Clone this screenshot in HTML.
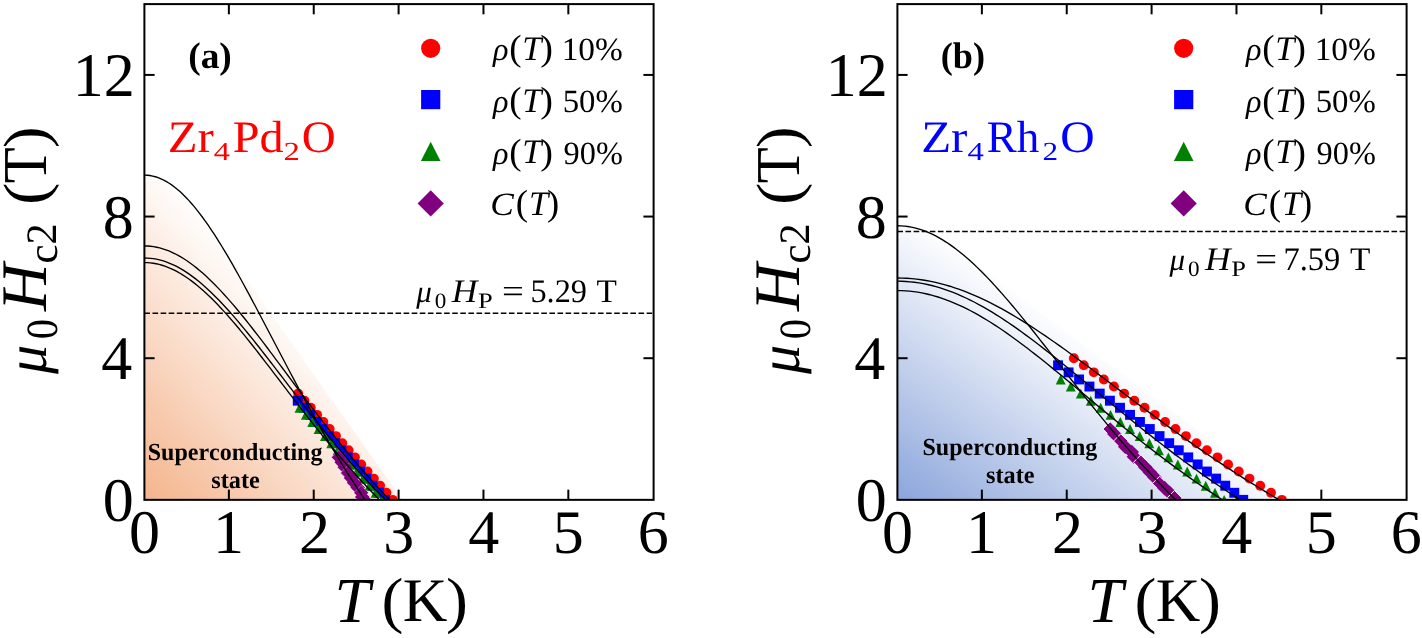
<!DOCTYPE html>
<html><head><meta charset="utf-8"><title>Hc2 phase diagrams</title>
<style>html,body{margin:0;padding:0;background:#fff;font-family:"Liberation Serif",serif}svg{display:block;will-change:transform}</style>
</head><body>
<svg width="1422" height="638" viewBox="0 0 1422 638" font-family="'Liberation Serif', serif" style="font-kerning:none" text-rendering="geometricPrecision">
<rect width="1422" height="638" fill="#fff"/>
<defs><linearGradient id="ga" gradientUnits="userSpaceOnUse" x1="144.4" y1="499.9" x2="320.7" y2="339.3"><stop offset="0.00" stop-color="rgb(244,180,140)"/><stop offset="0.05" stop-color="rgb(245,184,146)"/><stop offset="0.10" stop-color="rgb(245,188,152)"/><stop offset="0.15" stop-color="rgb(246,191,157)"/><stop offset="0.20" stop-color="rgb(246,195,163)"/><stop offset="0.25" stop-color="rgb(247,199,169)"/><stop offset="0.30" stop-color="rgb(247,202,174)"/><stop offset="0.35" stop-color="rgb(248,206,180)"/><stop offset="0.40" stop-color="rgb(248,210,186)"/><stop offset="0.45" stop-color="rgb(249,214,192)"/><stop offset="0.50" stop-color="rgb(250,218,198)"/><stop offset="0.55" stop-color="rgb(250,221,203)"/><stop offset="0.60" stop-color="rgb(251,225,209)"/><stop offset="0.65" stop-color="rgb(251,229,215)"/><stop offset="0.70" stop-color="rgb(252,232,220)"/><stop offset="0.75" stop-color="rgb(252,236,226)"/><stop offset="0.80" stop-color="rgb(253,240,232)"/><stop offset="0.85" stop-color="rgb(253,244,238)"/><stop offset="0.90" stop-color="rgb(254,248,244)"/><stop offset="0.95" stop-color="rgb(254,251,249)"/><stop offset="1.00" stop-color="rgb(255,255,255)"/></linearGradient><clipPath id="ca"><rect x="144.4" y="4.1" width="509.20000000000005" height="495.75"/></clipPath></defs>
<path d="M144.40,499.85 L144.40,175.13 L145.93,175.16 L147.46,175.26 L148.98,175.41 L150.51,175.63 L152.04,175.91 L153.57,176.25 L155.09,176.66 L156.62,177.12 L158.15,177.65 L159.68,178.23 L161.20,178.88 L162.73,179.59 L164.26,180.35 L165.79,181.18 L167.31,182.06 L168.84,183.01 L170.37,184.01 L171.90,185.06 L173.42,186.18 L174.95,187.35 L176.48,188.58 L178.01,189.86 L179.53,191.19 L181.06,192.58 L182.59,194.02 L184.12,195.52 L185.65,197.06 L187.17,198.65 L188.70,200.30 L190.23,201.99 L191.76,203.73 L193.28,205.52 L194.81,207.35 L196.34,209.23 L197.87,211.15 L199.39,213.11 L200.92,215.12 L202.45,217.17 L203.98,219.26 L205.50,221.39 L402.39,499.85Z" fill="url(#ga)"/>
<line x1="144.4" y1="313.15" x2="653.6" y2="313.15" stroke="#000" stroke-width="1.5" stroke-dasharray="5.6 2.5"/>
<line x1="228.87" y1="499.85" x2="228.87" y2="489.65000000000003" stroke="#000" stroke-width="2.0"/>
<line x1="228.87" y1="4.1" x2="228.87" y2="14.299999999999999" stroke="#000" stroke-width="2.0"/>
<line x1="313.73" y1="499.85" x2="313.73" y2="489.65000000000003" stroke="#000" stroke-width="2.0"/>
<line x1="313.73" y1="4.1" x2="313.73" y2="14.299999999999999" stroke="#000" stroke-width="2.0"/>
<line x1="398.60" y1="499.85" x2="398.60" y2="489.65000000000003" stroke="#000" stroke-width="2.0"/>
<line x1="398.60" y1="4.1" x2="398.60" y2="14.299999999999999" stroke="#000" stroke-width="2.0"/>
<line x1="483.47" y1="499.85" x2="483.47" y2="489.65000000000003" stroke="#000" stroke-width="2.0"/>
<line x1="483.47" y1="4.1" x2="483.47" y2="14.299999999999999" stroke="#000" stroke-width="2.0"/>
<line x1="568.33" y1="499.85" x2="568.33" y2="489.65000000000003" stroke="#000" stroke-width="2.0"/>
<line x1="568.33" y1="4.1" x2="568.33" y2="14.299999999999999" stroke="#000" stroke-width="2.0"/>
<line x1="144.4" y1="358.21" x2="154.6" y2="358.21" stroke="#000" stroke-width="2.0"/>
<line x1="653.6" y1="358.21" x2="643.4" y2="358.21" stroke="#000" stroke-width="2.0"/>
<line x1="144.4" y1="216.56" x2="154.6" y2="216.56" stroke="#000" stroke-width="2.0"/>
<line x1="653.6" y1="216.56" x2="643.4" y2="216.56" stroke="#000" stroke-width="2.0"/>
<line x1="144.4" y1="74.92" x2="154.6" y2="74.92" stroke="#000" stroke-width="2.0"/>
<line x1="653.6" y1="74.92" x2="643.4" y2="74.92" stroke="#000" stroke-width="2.0"/>
<g clip-path="url(#ca)">
<circle cx="298.18" cy="393.62" r="4.95" fill="#f00"/>
<circle cx="304.48" cy="400.70" r="4.95" fill="#f00"/>
<circle cx="310.78" cy="407.78" r="4.95" fill="#f00"/>
<circle cx="317.09" cy="414.86" r="4.95" fill="#f00"/>
<circle cx="323.39" cy="421.95" r="4.95" fill="#f00"/>
<circle cx="329.69" cy="429.03" r="4.95" fill="#f00"/>
<circle cx="335.99" cy="436.11" r="4.95" fill="#f00"/>
<circle cx="342.30" cy="443.19" r="4.95" fill="#f00"/>
<circle cx="348.60" cy="450.28" r="4.95" fill="#f00"/>
<circle cx="354.90" cy="457.36" r="4.95" fill="#f00"/>
<circle cx="361.21" cy="464.44" r="4.95" fill="#f00"/>
<circle cx="367.51" cy="471.52" r="4.95" fill="#f00"/>
<circle cx="373.81" cy="478.60" r="4.95" fill="#f00"/>
<circle cx="380.11" cy="485.69" r="4.95" fill="#f00"/>
<circle cx="386.42" cy="492.77" r="4.95" fill="#f00"/>
<circle cx="392.72" cy="499.85" r="4.95" fill="#f00"/>
<rect x="292.80" y="395.75" width="9.9" height="9.9" fill="#00f"/>
<rect x="299.04" y="402.83" width="9.9" height="9.9" fill="#00f"/>
<rect x="305.27" y="409.91" width="9.9" height="9.9" fill="#00f"/>
<rect x="311.50" y="417.00" width="9.9" height="9.9" fill="#00f"/>
<rect x="317.73" y="424.08" width="9.9" height="9.9" fill="#00f"/>
<rect x="323.96" y="431.16" width="9.9" height="9.9" fill="#00f"/>
<rect x="330.19" y="438.24" width="9.9" height="9.9" fill="#00f"/>
<rect x="336.43" y="445.33" width="9.9" height="9.9" fill="#00f"/>
<rect x="342.66" y="452.41" width="9.9" height="9.9" fill="#00f"/>
<rect x="348.89" y="459.49" width="9.9" height="9.9" fill="#00f"/>
<rect x="355.12" y="466.57" width="9.9" height="9.9" fill="#00f"/>
<rect x="361.35" y="473.65" width="9.9" height="9.9" fill="#00f"/>
<rect x="367.58" y="480.74" width="9.9" height="9.9" fill="#00f"/>
<rect x="373.82" y="487.82" width="9.9" height="9.9" fill="#00f"/>
<rect x="380.05" y="494.90" width="9.9" height="9.9" fill="#00f"/>
<path d="M299.54,402.83 L304.49,412.73 L294.59,412.73Z" fill="#008000"/>
<path d="M305.88,409.91 L310.83,419.81 L300.93,419.81Z" fill="#008000"/>
<path d="M312.23,417.00 L317.18,426.90 L307.28,426.90Z" fill="#008000"/>
<path d="M318.57,424.08 L323.52,433.98 L313.62,433.98Z" fill="#008000"/>
<path d="M324.92,431.16 L329.87,441.06 L319.97,441.06Z" fill="#008000"/>
<path d="M331.26,438.24 L336.21,448.14 L326.31,448.14Z" fill="#008000"/>
<path d="M337.61,445.33 L342.56,455.23 L332.66,455.23Z" fill="#008000"/>
<path d="M343.95,452.41 L348.90,462.31 L339.00,462.31Z" fill="#008000"/>
<path d="M350.30,459.49 L355.25,469.39 L345.35,469.39Z" fill="#008000"/>
<path d="M356.65,466.57 L361.60,476.47 L351.70,476.47Z" fill="#008000"/>
<path d="M362.99,473.65 L367.94,483.55 L358.04,483.55Z" fill="#008000"/>
<path d="M369.34,480.74 L374.29,490.64 L364.39,490.64Z" fill="#008000"/>
<path d="M375.68,487.82 L380.63,497.72 L370.73,497.72Z" fill="#008000"/>
<path d="M382.03,494.90 L386.98,504.80 L377.08,504.80Z" fill="#008000"/>
<path d="M338.74,450.03 L346.07,457.36 L338.74,464.68 L331.42,457.36Z" fill="#800080" stroke="#fff" stroke-width="0.35"/>
<path d="M341.76,454.99 L349.09,462.31 L341.76,469.64 L334.44,462.31Z" fill="#800080"/>
<path d="M344.82,459.95 L352.15,467.27 L344.82,474.60 L337.50,467.27Z" fill="#800080"/>
<path d="M347.91,465.61 L355.24,472.94 L347.91,480.26 L340.59,472.94Z" fill="#800080" stroke="#fff" stroke-width="0.35"/>
<path d="M351.06,470.57 L358.38,477.90 L351.06,485.22 L343.73,477.90Z" fill="#800080"/>
<path d="M354.24,475.53 L361.57,482.85 L354.24,490.18 L346.91,482.85Z" fill="#800080"/>
<path d="M357.69,480.13 L365.01,487.46 L357.69,494.78 L350.36,487.46Z" fill="#800080"/>
<path d="M361.19,485.44 L368.52,492.77 L361.19,500.09 L353.87,492.77Z" fill="#800080" stroke="#fff" stroke-width="0.35"/>
<path d="M362.24,489.69 L369.56,497.02 L362.24,504.34 L354.91,497.02Z" fill="#800080"/>
<path d="M364.15,492.52 L371.48,499.85 L364.15,507.18 L356.83,499.85Z" fill="#800080"/>
<polyline points="144.40,175.13 147.16,175.24 149.92,175.54 152.67,176.05 155.43,176.75 158.19,177.66 160.95,178.77 163.71,180.07 166.47,181.56 169.22,183.25 171.98,185.13 174.74,187.18 177.50,189.42 180.26,191.84 183.01,194.43 185.77,197.19 188.53,200.11 191.29,203.19 194.05,206.43 196.81,209.81 199.56,213.34 202.32,217.00 205.08,220.79 207.84,224.72 210.60,228.76 213.35,232.91 216.11,237.18 218.87,241.54 221.63,246.01 224.39,250.56 227.15,255.20 229.90,259.92 232.66,264.71 235.42,269.57 238.18,274.49 240.94,279.47 243.69,284.50 246.45,289.57 249.21,294.69 251.97,299.84 254.73,305.02 257.48,310.23 260.24,315.46 263.00,320.70 265.76,325.96 268.52,331.23 271.28,336.50 274.03,341.77 276.79,347.04 279.55,352.31 282.31,357.56 285.07,362.80 287.82,368.02 290.58,373.23 293.34,378.41 296.10,383.57 298.86,388.71 301.62,393.81 304.37,398.88 307.13,403.92 309.89,408.93 312.65,413.90 315.41,418.83 318.16,423.72 320.92,428.57 323.68,433.38 326.44,438.14 329.20,442.86 331.96,447.54 334.71,452.17 337.47,456.75 340.23,461.28 342.99,465.76 345.75,470.20 348.50,474.59 351.26,478.92 354.02,483.21 356.78,487.44 359.54,491.63 362.30,495.77 365.05,499.85" fill="none" stroke="#000" stroke-width="1.35"/>
<polyline points="144.40,245.96 147.47,246.03 150.53,246.27 153.60,246.67 156.66,247.22 159.73,247.93 162.79,248.80 165.86,249.81 168.93,250.98 171.99,252.30 175.06,253.77 178.12,255.38 181.19,257.13 184.26,259.02 187.32,261.04 190.39,263.20 193.45,265.49 196.52,267.89 199.58,270.42 202.65,273.07 205.72,275.83 208.78,278.69 211.85,281.66 214.91,284.72 217.98,287.88 221.05,291.13 224.11,294.47 227.18,297.88 230.24,301.37 233.31,304.93 236.37,308.56 239.44,312.25 242.51,316.00 245.57,319.79 248.64,323.64 251.70,327.53 254.77,331.47 257.83,335.43 260.90,339.43 263.97,343.46 267.03,347.51 270.10,351.58 273.16,355.67 276.23,359.78 279.30,363.89 282.36,368.01 285.43,372.13 288.49,376.25 291.56,380.37 294.62,384.49 297.69,388.59 300.76,392.69 303.82,396.77 306.89,400.85 309.95,404.90 313.02,408.93 316.09,412.95 319.15,416.94 322.22,420.90 325.28,424.85 328.35,428.76 331.41,432.64 334.48,436.50 337.55,440.32 340.61,444.12 343.68,447.88 346.74,451.60 349.81,455.29 352.87,458.95 355.94,462.57 359.01,466.15 362.07,469.69 365.14,473.20 368.20,476.67 371.27,480.10 374.34,483.49 377.40,486.84 380.47,490.15 383.53,493.42 386.60,496.66 389.66,499.85" fill="none" stroke="#000" stroke-width="1.35"/>
<polyline points="144.40,257.99 147.41,258.07 150.43,258.30 153.44,258.67 156.45,259.20 159.46,259.88 162.48,260.70 165.49,261.67 168.50,262.78 171.51,264.04 174.53,265.44 177.54,266.97 180.55,268.64 183.57,270.44 186.58,272.37 189.59,274.42 192.60,276.60 195.62,278.89 198.63,281.30 201.64,283.82 204.66,286.45 207.67,289.18 210.68,292.00 213.69,294.92 216.71,297.93 219.72,301.03 222.73,304.21 225.74,307.46 228.76,310.78 231.77,314.17 234.78,317.63 237.80,321.14 240.81,324.71 243.82,328.33 246.83,332.00 249.85,335.71 252.86,339.45 255.87,343.23 258.89,347.04 261.90,350.88 264.91,354.74 267.92,358.62 270.94,362.51 273.95,366.42 276.96,370.33 279.97,374.26 282.99,378.18 286.00,382.11 289.01,386.04 292.03,389.96 295.04,393.87 298.05,397.77 301.06,401.66 304.08,405.54 307.09,409.40 310.10,413.24 313.11,417.07 316.13,420.87 319.14,424.65 322.15,428.40 325.17,432.13 328.18,435.83 331.19,439.50 334.20,443.15 337.22,446.76 340.23,450.34 343.24,453.89 346.26,457.40 349.27,460.89 352.28,464.33 355.29,467.75 358.31,471.12 361.32,474.46 364.33,477.77 367.34,481.03 370.36,484.26 373.37,487.46 376.38,490.61 379.40,493.73 382.41,496.81 385.42,499.85" fill="none" stroke="#000" stroke-width="1.35"/>
<polyline points="144.40,262.60 147.34,262.67 150.28,262.89 153.22,263.26 156.15,263.78 159.09,264.44 162.03,265.25 164.97,266.20 167.91,267.30 170.85,268.53 173.79,269.90 176.72,271.40 179.66,273.04 182.60,274.81 185.54,276.70 188.48,278.71 191.42,280.85 194.35,283.10 197.29,285.46 200.23,287.93 203.17,290.51 206.11,293.19 209.05,295.96 211.99,298.82 214.92,301.78 217.86,304.81 220.80,307.93 223.74,311.12 226.68,314.38 229.62,317.71 232.56,321.10 235.49,324.55 238.43,328.05 241.37,331.60 244.31,335.19 247.25,338.83 250.19,342.50 253.12,346.21 256.06,349.95 259.00,353.71 261.94,357.50 264.88,361.30 267.82,365.12 270.76,368.96 273.69,372.80 276.63,376.65 279.57,380.50 282.51,384.35 285.45,388.20 288.39,392.05 291.33,395.89 294.26,399.71 297.20,403.53 300.14,407.33 303.08,411.12 306.02,414.89 308.96,418.64 311.89,422.37 314.83,426.08 317.77,429.76 320.71,433.42 323.65,437.05 326.59,440.65 329.53,444.23 332.46,447.77 335.40,451.28 338.34,454.76 341.28,458.21 344.22,461.63 347.16,465.01 350.10,468.36 353.03,471.67 355.97,474.95 358.91,478.19 361.85,481.39 364.79,484.56 367.73,487.69 370.67,490.79 373.60,493.84 376.54,496.87 379.48,499.85" fill="none" stroke="#000" stroke-width="1.35"/>
</g>
<rect x="144.4" y="4.1" width="509.20000000000005" height="495.75" fill="none" stroke="#000" stroke-width="2.0"/>
<text font-size="62.00" fill="#000" x="128.90" y="553.00">0</text>
<text font-size="62.00" fill="#000" x="212.90" y="553.00">1</text>
<text font-size="62.00" fill="#000" x="298.98" y="553.00">2</text>
<text font-size="62.00" fill="#000" x="383.23" y="553.00">3</text>
<text font-size="62.00" fill="#000" x="468.25" y="553.00">4</text>
<text font-size="62.00" fill="#000" x="552.64" y="553.00">5</text>
<text font-size="62.00" fill="#000" x="637.69" y="553.00">6</text>
<text font-size="62.00" fill="#000" x="102.66" y="521.05">0</text>
<text font-size="62.00" fill="#000" x="101.27" y="379.41">4</text>
<text font-size="62.00" fill="#000" x="102.66" y="237.76">8</text>
<text font-size="62.00" fill="#000" x="72.72" y="96.12">12</text>
<text font-style="italic" font-size="64" fill="#000" x="334.5" y="621.7">T</text>
<text font-size="100" fill="#000" transform="translate(381.61,621.23) scale(0.6580,0.6231)">(</text>
<text font-size="62.00" fill="#000" transform="translate(402.72,621.10) scale(0.9964,1.0000)">K</text>
<text font-size="100" fill="#000" transform="translate(446.08,621.23) scale(0.6580,0.6231)">)</text>
<g transform="translate(46.10,374) rotate(-90)">
<text font-style="italic" font-size="58" fill="#000" x="0" y="0">μ</text>
<text font-size="100" fill="#000" transform="translate(34.86,10.66) scale(0.4035,0.4461)">0</text>
<text font-style="italic" font-size="100" fill="#000" transform="translate(63.01,-0.00) scale(0.6582,0.6506)">H</text>
<text font-size="100" fill="#000" transform="translate(110.33,10.49) scale(0.4373,0.4242)">c</text>
<text font-size="100" fill="#000" transform="translate(129.54,10.30) scale(0.4241,0.4350)">2</text>
<text font-size="100" fill="#000" transform="translate(168.96,0.02) scale(0.6697,0.6143)">(</text>
<text font-size="100" fill="#000" transform="translate(190.84,0.20) scale(0.5884,0.6246)">T</text>
<text font-size="100" fill="#000" transform="translate(225.78,0.02) scale(0.6580,0.6143)">)</text>
</g>
<text font-weight="bold" font-size="37.00" fill="#000" transform="translate(188.15,67.60) scale(1.0128,1.0000)">(a)</text>
<text font-size="45.00" fill="#f00" transform="translate(167.76,152.30) scale(1.0846,1.0000)">Zr</text>
<text font-size="26.00" fill="#f00" transform="translate(213.67,159.80) scale(1.2494,1.0000)">4</text>
<text font-size="45.00" fill="#f00" transform="translate(232.71,152.30) scale(1.0705,1.0000)">Pd</text>
<text font-size="26.00" fill="#f00" transform="translate(283.46,159.80) scale(1.2569,1.0000)">2</text>
<text font-size="45.00" fill="#f00" transform="translate(301.77,152.30) scale(1.0449,1.0000)">O</text>
<circle cx="430.7" cy="48.3" r="9.6" fill="#f00"/>
<rect x="421.09999999999997" y="90.0" width="19.2" height="19.2" fill="#00f"/>
<path d="M430.7,141.70000000000002 L440.5,160.9 L420.9,160.9Z" fill="#008000"/>
<path d="M430.7,190.3 L443.8,203.4 L430.7,216.5 L417.59999999999997,203.4Z" fill="#800080"/>
<text font-style="italic" font-size="32.50" fill="#000" transform="translate(493.02,60.40) scale(0.9909,1.0000)">ρ</text>
<text font-size="100" fill="#000" transform="translate(509.17,60.35) scale(0.3699,0.3639)">(</text>
<text font-style="italic" font-size="34.5" fill="#000" x="522.3" y="60.2">T</text>
<text font-size="100" fill="#000" transform="translate(540.37,60.35) scale(0.3816,0.3639)">)</text>
<text font-size="32.50" fill="#000" transform="translate(561.67,60.40) scale(1.0269,1.0000)">10%</text>
<text font-style="italic" font-size="32.50" fill="#000" transform="translate(493.02,112.00) scale(0.9909,1.0000)">ρ</text>
<text font-size="100" fill="#000" transform="translate(509.17,111.95) scale(0.3699,0.3639)">(</text>
<text font-style="italic" font-size="34.5" fill="#000" x="522.3" y="111.8">T</text>
<text font-size="100" fill="#000" transform="translate(540.37,111.95) scale(0.3816,0.3639)">)</text>
<text font-size="32.50" fill="#000" transform="translate(562.69,112.00) scale(1.0093,1.0000)">50%</text>
<text font-style="italic" font-size="32.50" fill="#000" transform="translate(493.02,163.60) scale(0.9909,1.0000)">ρ</text>
<text font-size="100" fill="#000" transform="translate(509.17,163.55) scale(0.3699,0.3639)">(</text>
<text font-style="italic" font-size="34.5" fill="#000" x="522.3" y="163.4">T</text>
<text font-size="100" fill="#000" transform="translate(540.37,163.55) scale(0.3816,0.3639)">)</text>
<text font-size="32.50" fill="#000" transform="translate(563.56,163.60) scale(0.9945,1.0000)">90%</text>
<text font-style="italic" font-size="32.50" fill="#000" transform="translate(490.24,215.20) scale(1.0858,1.0000)">C</text>
<text font-size="100" fill="#000" transform="translate(515.77,215.15) scale(0.3699,0.3639)">(</text>
<text font-style="italic" font-size="34.5" fill="#000" x="528.9" y="215">T</text>
<text font-size="100" fill="#000" transform="translate(547.02,215.15) scale(0.3660,0.3639)">)</text>
<g transform="translate(416.20,301.90) scale(0.535)"><text font-style="italic" font-size="58" fill="#000" x="0" y="0">μ</text></g>
<text font-size="22.00" fill="#000" transform="translate(434.72,307.60) scale(1.0510,1.0000)">0</text>
<text font-style="italic" font-size="33.00" fill="#000" transform="translate(451.78,301.60) scale(1.0752,1.0000)">H</text>
<text font-size="22.00" fill="#000" transform="translate(477.94,307.60) scale(1.2033,1.0000)">P</text>
<text font-size="33.00" fill="#000" transform="translate(502.07,301.60) scale(1.1722,1.0000)">=</text>
<text font-size="33.00" fill="#000" transform="translate(530.42,301.60) scale(0.9784,1.0000)">5.29</text>
<text font-size="33.00" fill="#000" transform="translate(596.60,301.60) scale(1.0098,1.0000)">T</text>
<text font-weight="bold" font-size="24.50" fill="#000" transform="translate(147.72,459.80) scale(0.9796,1.0000)">Superconducting</text>
<text font-weight="bold" font-size="24.50" fill="#000" transform="translate(211.26,488.40) scale(0.9916,1.0000)">state</text>
<defs><linearGradient id="gb" gradientUnits="userSpaceOnUse" x1="897.4" y1="499.9" x2="1037.5" y2="304.8"><stop offset="0.00" stop-color="rgb(139,165,219)"/><stop offset="0.05" stop-color="rgb(145,170,221)"/><stop offset="0.10" stop-color="rgb(151,174,223)"/><stop offset="0.15" stop-color="rgb(156,178,224)"/><stop offset="0.20" stop-color="rgb(162,183,226)"/><stop offset="0.25" stop-color="rgb(168,188,228)"/><stop offset="0.30" stop-color="rgb(174,192,230)"/><stop offset="0.35" stop-color="rgb(180,196,232)"/><stop offset="0.40" stop-color="rgb(185,201,233)"/><stop offset="0.45" stop-color="rgb(191,206,235)"/><stop offset="0.50" stop-color="rgb(197,210,237)"/><stop offset="0.55" stop-color="rgb(203,214,239)"/><stop offset="0.60" stop-color="rgb(209,219,241)"/><stop offset="0.65" stop-color="rgb(214,224,242)"/><stop offset="0.70" stop-color="rgb(220,228,244)"/><stop offset="0.75" stop-color="rgb(226,232,246)"/><stop offset="0.80" stop-color="rgb(232,237,248)"/><stop offset="0.85" stop-color="rgb(238,242,250)"/><stop offset="0.90" stop-color="rgb(243,246,251)"/><stop offset="0.95" stop-color="rgb(249,250,253)"/><stop offset="1.00" stop-color="rgb(255,255,255)"/></linearGradient><clipPath id="cb"><rect x="897.4" y="4.1" width="509.19999999999993" height="495.75"/></clipPath></defs>
<path d="M897.40,499.85 L897.40,225.77 L898.84,225.79 L900.29,225.83 L901.73,225.90 L903.17,226.01 L904.61,226.14 L906.06,226.30 L907.50,226.49 L908.94,226.71 L910.38,226.96 L911.83,227.24 L913.27,227.55 L914.71,227.88 L916.16,228.25 L917.60,228.64 L919.04,229.06 L920.48,229.51 L921.93,229.99 L923.37,230.50 L924.81,231.04 L926.25,231.60 L927.70,232.19 L929.14,232.81 L930.58,233.45 L932.03,234.12 L933.47,234.82 L934.91,235.55 L936.35,236.30 L937.80,237.08 L939.24,237.88 L940.68,238.71 L942.12,239.57 L943.57,240.45 L945.01,241.35 L946.45,242.28 L947.90,243.23 L949.34,244.21 L950.78,245.21 L952.22,246.24 L953.67,247.29 L955.11,248.36 L1290.33,499.85Z" fill="url(#gb)"/>
<line x1="897.4" y1="231.5" x2="1406.6" y2="231.5" stroke="#000" stroke-width="1.5" stroke-dasharray="5.6 2.5"/>
<line x1="981.87" y1="499.85" x2="981.87" y2="489.65000000000003" stroke="#000" stroke-width="2.0"/>
<line x1="981.87" y1="4.1" x2="981.87" y2="14.299999999999999" stroke="#000" stroke-width="2.0"/>
<line x1="1066.73" y1="499.85" x2="1066.73" y2="489.65000000000003" stroke="#000" stroke-width="2.0"/>
<line x1="1066.73" y1="4.1" x2="1066.73" y2="14.299999999999999" stroke="#000" stroke-width="2.0"/>
<line x1="1151.60" y1="499.85" x2="1151.60" y2="489.65000000000003" stroke="#000" stroke-width="2.0"/>
<line x1="1151.60" y1="4.1" x2="1151.60" y2="14.299999999999999" stroke="#000" stroke-width="2.0"/>
<line x1="1236.47" y1="499.85" x2="1236.47" y2="489.65000000000003" stroke="#000" stroke-width="2.0"/>
<line x1="1236.47" y1="4.1" x2="1236.47" y2="14.299999999999999" stroke="#000" stroke-width="2.0"/>
<line x1="1321.33" y1="499.85" x2="1321.33" y2="489.65000000000003" stroke="#000" stroke-width="2.0"/>
<line x1="1321.33" y1="4.1" x2="1321.33" y2="14.299999999999999" stroke="#000" stroke-width="2.0"/>
<line x1="897.4" y1="358.21" x2="907.6" y2="358.21" stroke="#000" stroke-width="2.0"/>
<line x1="1406.6" y1="358.21" x2="1396.3999999999999" y2="358.21" stroke="#000" stroke-width="2.0"/>
<line x1="897.4" y1="216.56" x2="907.6" y2="216.56" stroke="#000" stroke-width="2.0"/>
<line x1="1406.6" y1="216.56" x2="1396.3999999999999" y2="216.56" stroke="#000" stroke-width="2.0"/>
<line x1="897.4" y1="74.92" x2="907.6" y2="74.92" stroke="#000" stroke-width="2.0"/>
<line x1="1406.6" y1="74.92" x2="1396.3999999999999" y2="74.92" stroke="#000" stroke-width="2.0"/>
<g clip-path="url(#cb)">
<circle cx="1073.84" cy="358.21" r="4.95" fill="#f00"/>
<circle cx="1083.79" cy="365.29" r="4.95" fill="#f00"/>
<circle cx="1093.80" cy="372.37" r="4.95" fill="#f00"/>
<circle cx="1103.85" cy="379.45" r="4.95" fill="#f00"/>
<circle cx="1113.95" cy="386.54" r="4.95" fill="#f00"/>
<circle cx="1124.09" cy="393.62" r="4.95" fill="#f00"/>
<circle cx="1134.28" cy="400.70" r="4.95" fill="#f00"/>
<circle cx="1144.52" cy="407.78" r="4.95" fill="#f00"/>
<circle cx="1154.80" cy="414.86" r="4.95" fill="#f00"/>
<circle cx="1165.13" cy="421.95" r="4.95" fill="#f00"/>
<circle cx="1175.51" cy="429.03" r="4.95" fill="#f00"/>
<circle cx="1185.93" cy="436.11" r="4.95" fill="#f00"/>
<circle cx="1196.40" cy="443.19" r="4.95" fill="#f00"/>
<circle cx="1206.92" cy="450.28" r="4.95" fill="#f00"/>
<circle cx="1217.48" cy="457.36" r="4.95" fill="#f00"/>
<circle cx="1228.09" cy="464.44" r="4.95" fill="#f00"/>
<circle cx="1238.75" cy="471.52" r="4.95" fill="#f00"/>
<circle cx="1249.45" cy="478.60" r="4.95" fill="#f00"/>
<circle cx="1260.20" cy="485.69" r="4.95" fill="#f00"/>
<circle cx="1271.00" cy="492.77" r="4.95" fill="#f00"/>
<circle cx="1281.85" cy="499.85" r="4.95" fill="#f00"/>
<rect x="1053.10" y="360.34" width="9.9" height="9.9" fill="#00f"/>
<rect x="1063.65" y="367.42" width="9.9" height="9.9" fill="#00f"/>
<rect x="1074.11" y="374.50" width="9.9" height="9.9" fill="#00f"/>
<rect x="1084.49" y="381.59" width="9.9" height="9.9" fill="#00f"/>
<rect x="1094.77" y="388.67" width="9.9" height="9.9" fill="#00f"/>
<rect x="1104.96" y="395.75" width="9.9" height="9.9" fill="#00f"/>
<rect x="1115.06" y="402.83" width="9.9" height="9.9" fill="#00f"/>
<rect x="1125.08" y="409.91" width="9.9" height="9.9" fill="#00f"/>
<rect x="1135.00" y="417.00" width="9.9" height="9.9" fill="#00f"/>
<rect x="1144.84" y="424.08" width="9.9" height="9.9" fill="#00f"/>
<rect x="1154.59" y="431.16" width="9.9" height="9.9" fill="#00f"/>
<rect x="1164.24" y="438.24" width="9.9" height="9.9" fill="#00f"/>
<rect x="1173.81" y="445.33" width="9.9" height="9.9" fill="#00f"/>
<rect x="1183.29" y="452.41" width="9.9" height="9.9" fill="#00f"/>
<rect x="1192.68" y="459.49" width="9.9" height="9.9" fill="#00f"/>
<rect x="1201.98" y="466.57" width="9.9" height="9.9" fill="#00f"/>
<rect x="1211.19" y="473.65" width="9.9" height="9.9" fill="#00f"/>
<rect x="1220.31" y="480.74" width="9.9" height="9.9" fill="#00f"/>
<rect x="1229.34" y="487.82" width="9.9" height="9.9" fill="#00f"/>
<rect x="1238.28" y="494.90" width="9.9" height="9.9" fill="#00f"/>
<path d="M1060.68,374.50 L1065.63,384.40 L1055.73,384.40Z" fill="#008000"/>
<path d="M1070.77,381.59 L1075.72,391.49 L1065.82,391.49Z" fill="#008000"/>
<path d="M1080.79,388.67 L1085.74,398.57 L1075.84,398.57Z" fill="#008000"/>
<path d="M1090.76,395.75 L1095.71,405.65 L1085.81,405.65Z" fill="#008000"/>
<path d="M1100.67,402.83 L1105.62,412.73 L1095.72,412.73Z" fill="#008000"/>
<path d="M1110.52,409.91 L1115.47,419.81 L1105.57,419.81Z" fill="#008000"/>
<path d="M1120.31,417.00 L1125.26,426.90 L1115.36,426.90Z" fill="#008000"/>
<path d="M1130.04,424.08 L1134.99,433.98 L1125.09,433.98Z" fill="#008000"/>
<path d="M1139.72,431.16 L1144.67,441.06 L1134.77,441.06Z" fill="#008000"/>
<path d="M1149.33,438.24 L1154.28,448.14 L1144.38,448.14Z" fill="#008000"/>
<path d="M1158.89,445.33 L1163.84,455.23 L1153.94,455.23Z" fill="#008000"/>
<path d="M1168.39,452.41 L1173.34,462.31 L1163.44,462.31Z" fill="#008000"/>
<path d="M1177.82,459.49 L1182.77,469.39 L1172.87,469.39Z" fill="#008000"/>
<path d="M1187.20,466.57 L1192.15,476.47 L1182.25,476.47Z" fill="#008000"/>
<path d="M1196.53,473.65 L1201.48,483.55 L1191.58,483.55Z" fill="#008000"/>
<path d="M1205.79,480.74 L1210.74,490.64 L1200.84,490.64Z" fill="#008000"/>
<path d="M1214.99,487.82 L1219.94,497.72 L1210.04,497.72Z" fill="#008000"/>
<path d="M1224.14,494.90 L1229.09,504.80 L1219.19,504.80Z" fill="#008000"/>
<path d="M1110.19,421.70 L1117.52,429.03 L1110.19,436.35 L1102.87,429.03Z" fill="#800080" stroke="#fff" stroke-width="1.0"/>
<path d="M1114.35,426.66 L1121.68,433.99 L1114.35,441.31 L1107.03,433.99Z" fill="#800080"/>
<path d="M1120.82,433.74 L1128.15,441.07 L1120.82,448.39 L1113.50,441.07Z" fill="#800080" stroke="#fff" stroke-width="1.0"/>
<path d="M1125.25,439.41 L1132.58,446.73 L1125.25,454.06 L1117.93,446.73Z" fill="#800080"/>
<path d="M1131.69,444.72 L1139.01,452.05 L1131.69,459.37 L1124.36,452.05Z" fill="#800080"/>
<path d="M1133.95,449.32 L1141.28,456.65 L1133.95,463.97 L1126.63,456.65Z" fill="#800080"/>
<path d="M1140.83,454.99 L1148.15,462.31 L1140.83,469.64 L1133.50,462.31Z" fill="#800080" stroke="#fff" stroke-width="1.0"/>
<path d="M1145.33,459.95 L1152.65,467.27 L1145.33,474.60 L1138.00,467.27Z" fill="#800080"/>
<path d="M1149.89,464.90 L1157.22,472.23 L1149.89,479.56 L1142.57,472.23Z" fill="#800080"/>
<path d="M1154.52,469.86 L1161.85,477.19 L1154.52,484.51 L1147.20,477.19Z" fill="#800080"/>
<path d="M1159.68,476.24 L1167.01,483.56 L1159.68,490.89 L1152.36,483.56Z" fill="#800080" stroke="#fff" stroke-width="1.0"/>
<path d="M1164.59,480.84 L1171.91,488.16 L1164.59,495.49 L1157.26,488.16Z" fill="#800080"/>
<path d="M1169.56,485.44 L1176.89,492.77 L1169.56,500.09 L1162.23,492.77Z" fill="#800080"/>
<path d="M1174.51,490.40 L1181.84,497.73 L1174.51,505.05 L1167.19,497.73Z" fill="#800080" stroke="#fff" stroke-width="1.0"/>
<path d="M1174.86,492.52 L1182.19,499.85 L1174.86,507.18 L1167.54,499.85Z" fill="#800080"/>
<polyline points="897.40,225.77 900.88,225.86 904.36,226.11 907.84,226.54 911.32,227.14 914.80,227.90 918.28,228.84 921.76,229.94 925.24,231.20 928.72,232.62 932.20,234.20 935.67,235.94 939.15,237.83 942.63,239.87 946.11,242.06 949.59,244.39 953.07,246.85 956.55,249.45 960.03,252.18 963.51,255.04 966.99,258.02 970.47,261.11 973.95,264.31 977.43,267.62 980.91,271.03 984.39,274.54 987.87,278.14 991.35,281.82 994.83,285.59 998.31,289.44 1001.79,293.35 1005.27,297.33 1008.75,301.38 1012.22,305.48 1015.70,309.63 1019.18,313.84 1022.66,318.08 1026.14,322.36 1029.62,326.68 1033.10,331.03 1036.58,335.40 1040.06,339.80 1043.54,344.21 1047.02,348.64 1050.50,353.08 1053.98,357.52 1057.46,361.97 1060.94,366.42 1064.42,370.87 1067.90,375.31 1071.38,379.75 1074.86,384.17 1078.34,388.58 1081.82,392.97 1085.29,397.35 1088.77,401.71 1092.25,406.04 1095.73,410.35 1099.21,414.63 1102.69,418.88 1106.17,423.11 1109.65,427.30 1113.13,431.46 1116.61,435.59 1120.09,439.69 1123.57,443.74 1127.05,447.77 1130.53,451.75 1134.01,455.70 1137.49,459.60 1140.97,463.47 1144.45,467.29 1147.93,471.08 1151.41,474.82 1154.89,478.53 1158.37,482.19 1161.84,485.80 1165.32,489.38 1168.80,492.91 1172.28,496.40 1175.76,499.85" fill="none" stroke="#000" stroke-width="1.35"/>
<polyline points="897.40,278.00 902.17,278.07 906.95,278.28 911.72,278.62 916.50,279.11 921.27,279.73 926.04,280.48 930.82,281.37 935.59,282.39 940.36,283.55 945.14,284.83 949.91,286.23 954.68,287.77 959.46,289.42 964.23,291.19 969.01,293.07 973.78,295.07 978.55,297.17 983.33,299.38 988.10,301.69 992.88,304.10 997.65,306.60 1002.42,309.20 1007.20,311.88 1011.97,314.64 1016.74,317.48 1021.52,320.39 1026.29,323.37 1031.07,326.42 1035.84,329.53 1040.61,332.70 1045.39,335.93 1050.16,339.20 1054.93,342.52 1059.71,345.88 1064.48,349.28 1069.26,352.72 1074.03,356.19 1078.80,359.68 1083.58,363.20 1088.35,366.74 1093.12,370.30 1097.90,373.87 1102.67,377.46 1107.44,381.05 1112.22,384.65 1116.99,388.25 1121.77,391.85 1126.54,395.45 1131.31,399.05 1136.09,402.64 1140.86,406.22 1145.63,409.79 1150.41,413.34 1155.18,416.88 1159.96,420.41 1164.73,423.92 1169.50,427.40 1174.28,430.87 1179.05,434.31 1183.83,437.73 1188.60,441.13 1193.37,444.50 1198.15,447.84 1202.92,451.15 1207.69,454.44 1212.47,457.69 1217.24,460.92 1222.02,464.11 1226.79,467.27 1231.56,470.40 1236.34,473.50 1241.11,476.56 1245.88,479.59 1250.66,482.59 1255.43,485.55 1260.20,488.48 1264.98,491.37 1269.75,494.23 1274.53,497.06 1279.30,499.85" fill="none" stroke="#000" stroke-width="1.35"/>
<polyline points="897.40,281.19 901.69,281.26 905.97,281.46 910.26,281.80 914.54,282.28 918.83,282.89 923.11,283.64 927.40,284.51 931.69,285.52 935.97,286.65 940.26,287.92 944.54,289.30 948.83,290.81 953.11,292.44 957.40,294.18 961.69,296.04 965.97,298.01 970.26,300.08 974.54,302.26 978.83,304.54 983.12,306.91 987.40,309.38 991.69,311.94 995.97,314.58 1000.26,317.30 1004.54,320.10 1008.83,322.97 1013.12,325.91 1017.40,328.91 1021.69,331.98 1025.97,335.11 1030.26,338.28 1034.54,341.51 1038.83,344.78 1043.12,348.10 1047.40,351.45 1051.69,354.83 1055.97,358.25 1060.26,361.70 1064.54,365.16 1068.83,368.65 1073.12,372.16 1077.40,375.68 1081.69,379.21 1085.97,382.76 1090.26,386.30 1094.55,389.85 1098.83,393.40 1103.12,396.95 1107.40,400.49 1111.69,404.03 1115.97,407.56 1120.26,411.08 1124.55,414.58 1128.83,418.08 1133.12,421.55 1137.40,425.01 1141.69,428.44 1145.97,431.86 1150.26,435.25 1154.55,438.62 1158.83,441.97 1163.12,445.29 1167.40,448.59 1171.69,451.85 1175.97,455.09 1180.26,458.30 1184.55,461.48 1188.83,464.62 1193.12,467.74 1197.40,470.82 1201.69,473.88 1205.98,476.90 1210.26,479.88 1214.55,482.84 1218.83,485.76 1223.12,488.64 1227.40,491.50 1231.69,494.32 1235.98,497.10 1240.26,499.85" fill="none" stroke="#000" stroke-width="1.35"/>
<polyline points="897.40,290.57 901.46,290.64 905.53,290.83 909.59,291.16 913.65,291.62 917.71,292.20 921.78,292.91 925.84,293.75 929.90,294.72 933.97,295.80 938.03,297.01 942.09,298.34 946.16,299.78 950.22,301.34 954.28,303.01 958.34,304.79 962.41,306.67 966.47,308.66 970.53,310.74 974.60,312.92 978.66,315.19 982.72,317.55 986.79,320.00 990.85,322.53 994.91,325.13 998.97,327.81 1003.04,330.56 1007.10,333.37 1011.16,336.25 1015.23,339.19 1019.29,342.18 1023.35,345.22 1027.42,348.30 1031.48,351.44 1035.54,354.61 1039.60,357.82 1043.67,361.06 1047.73,364.33 1051.79,367.62 1055.86,370.94 1059.92,374.28 1063.98,377.64 1068.05,381.01 1072.11,384.39 1076.17,387.78 1080.23,391.17 1084.30,394.57 1088.36,397.97 1092.42,401.37 1096.49,404.76 1100.55,408.14 1104.61,411.52 1108.68,414.89 1112.74,418.24 1116.80,421.58 1120.86,424.91 1124.93,428.22 1128.99,431.51 1133.05,434.78 1137.12,438.03 1141.18,441.25 1145.24,444.45 1149.31,447.63 1153.37,450.79 1157.43,453.91 1161.49,457.01 1165.56,460.08 1169.62,463.12 1173.68,466.13 1177.75,469.12 1181.81,472.07 1185.87,474.99 1189.94,477.88 1194.00,480.74 1198.06,483.57 1202.12,486.36 1206.19,489.12 1210.25,491.86 1214.31,494.55 1218.38,497.22 1222.44,499.85" fill="none" stroke="#000" stroke-width="1.35"/>
</g>
<rect x="897.4" y="4.1" width="509.19999999999993" height="495.75" fill="none" stroke="#000" stroke-width="2.0"/>
<text font-size="62.00" fill="#000" x="881.90" y="553.00">0</text>
<text font-size="62.00" fill="#000" x="965.90" y="553.00">1</text>
<text font-size="62.00" fill="#000" x="1051.98" y="553.00">2</text>
<text font-size="62.00" fill="#000" x="1136.23" y="553.00">3</text>
<text font-size="62.00" fill="#000" x="1221.25" y="553.00">4</text>
<text font-size="62.00" fill="#000" x="1305.64" y="553.00">5</text>
<text font-size="62.00" fill="#000" x="1390.69" y="553.00">6</text>
<text font-size="62.00" fill="#000" x="855.66" y="521.05">0</text>
<text font-size="62.00" fill="#000" x="854.27" y="379.41">4</text>
<text font-size="62.00" fill="#000" x="855.66" y="237.76">8</text>
<text font-size="62.00" fill="#000" x="825.72" y="96.12">12</text>
<text font-style="italic" font-size="64" fill="#000" x="1087.5" y="621.7">T</text>
<text font-size="100" fill="#000" transform="translate(1134.61,621.23) scale(0.6580,0.6231)">(</text>
<text font-size="62.00" fill="#000" transform="translate(1155.72,621.10) scale(0.9964,1.0000)">K</text>
<text font-size="100" fill="#000" transform="translate(1199.08,621.23) scale(0.6580,0.6231)">)</text>
<g transform="translate(799.10,374) rotate(-90)">
<text font-style="italic" font-size="58" fill="#000" x="0" y="0">μ</text>
<text font-size="100" fill="#000" transform="translate(34.86,10.66) scale(0.4035,0.4461)">0</text>
<text font-style="italic" font-size="100" fill="#000" transform="translate(63.01,-0.00) scale(0.6582,0.6506)">H</text>
<text font-size="100" fill="#000" transform="translate(110.33,10.49) scale(0.4373,0.4242)">c</text>
<text font-size="100" fill="#000" transform="translate(129.54,10.30) scale(0.4241,0.4350)">2</text>
<text font-size="100" fill="#000" transform="translate(168.96,0.02) scale(0.6697,0.6143)">(</text>
<text font-size="100" fill="#000" transform="translate(190.84,0.20) scale(0.5884,0.6246)">T</text>
<text font-size="100" fill="#000" transform="translate(225.78,0.02) scale(0.6580,0.6143)">)</text>
</g>
<text font-weight="bold" font-size="37.00" fill="#000" transform="translate(940.71,67.60) scale(0.9793,1.0000)">(b)</text>
<text font-size="45.00" fill="#00f" transform="translate(921.15,152.30) scale(1.0896,1.0000)">Zr</text>
<text font-size="26.00" fill="#00f" transform="translate(967.56,159.80) scale(1.2577,1.0000)">4</text>
<text font-size="45.00" fill="#00f" transform="translate(986.80,152.30) scale(0.9995,1.0000)">Rh</text>
<text font-size="26.00" fill="#00f" transform="translate(1042.43,159.80) scale(1.1993,1.0000)">2</text>
<text font-size="45.00" fill="#00f" transform="translate(1060.25,152.30) scale(1.0588,1.0000)">O</text>
<circle cx="1183.7" cy="48.3" r="9.6" fill="#f00"/>
<rect x="1174.1000000000001" y="90.0" width="19.2" height="19.2" fill="#00f"/>
<path d="M1183.7,141.70000000000002 L1193.5,160.9 L1173.9,160.9Z" fill="#008000"/>
<path d="M1183.7,190.3 L1196.8,203.4 L1183.7,216.5 L1170.6000000000001,203.4Z" fill="#800080"/>
<text font-style="italic" font-size="32.50" fill="#000" transform="translate(1246.02,60.40) scale(0.9909,1.0000)">ρ</text>
<text font-size="100" fill="#000" transform="translate(1262.17,60.35) scale(0.3699,0.3639)">(</text>
<text font-style="italic" font-size="34.5" fill="#000" x="1275.3" y="60.2">T</text>
<text font-size="100" fill="#000" transform="translate(1293.37,60.35) scale(0.3816,0.3639)">)</text>
<text font-size="32.50" fill="#000" transform="translate(1314.67,60.40) scale(1.0269,1.0000)">10%</text>
<text font-style="italic" font-size="32.50" fill="#000" transform="translate(1246.02,112.00) scale(0.9909,1.0000)">ρ</text>
<text font-size="100" fill="#000" transform="translate(1262.17,111.95) scale(0.3699,0.3639)">(</text>
<text font-style="italic" font-size="34.5" fill="#000" x="1275.3" y="111.8">T</text>
<text font-size="100" fill="#000" transform="translate(1293.37,111.95) scale(0.3816,0.3639)">)</text>
<text font-size="32.50" fill="#000" transform="translate(1315.69,112.00) scale(1.0093,1.0000)">50%</text>
<text font-style="italic" font-size="32.50" fill="#000" transform="translate(1246.02,163.60) scale(0.9909,1.0000)">ρ</text>
<text font-size="100" fill="#000" transform="translate(1262.17,163.55) scale(0.3699,0.3639)">(</text>
<text font-style="italic" font-size="34.5" fill="#000" x="1275.3" y="163.4">T</text>
<text font-size="100" fill="#000" transform="translate(1293.37,163.55) scale(0.3816,0.3639)">)</text>
<text font-size="32.50" fill="#000" transform="translate(1316.56,163.60) scale(0.9945,1.0000)">90%</text>
<text font-style="italic" font-size="32.50" fill="#000" transform="translate(1243.24,215.20) scale(1.0858,1.0000)">C</text>
<text font-size="100" fill="#000" transform="translate(1268.77,215.15) scale(0.3699,0.3639)">(</text>
<text font-style="italic" font-size="34.5" fill="#000" x="1281.9" y="215">T</text>
<text font-size="100" fill="#000" transform="translate(1300.02,215.15) scale(0.3660,0.3639)">)</text>
<g transform="translate(1169.50,270.00) scale(0.535)"><text font-style="italic" font-size="58" fill="#000" x="0" y="0">μ</text></g>
<text font-size="22.00" fill="#000" transform="translate(1188.02,275.70) scale(1.0510,1.0000)">0</text>
<text font-style="italic" font-size="33.00" fill="#000" transform="translate(1205.08,269.70) scale(1.0752,1.0000)">H</text>
<text font-size="22.00" fill="#000" transform="translate(1231.24,275.70) scale(1.2033,1.0000)">P</text>
<text font-size="33.00" fill="#000" transform="translate(1255.37,269.70) scale(1.1722,1.0000)">=</text>
<text font-size="33.00" fill="#000" transform="translate(1283.46,269.70) scale(0.9830,1.0000)">7.59</text>
<text font-size="33.00" fill="#000" transform="translate(1349.90,269.70) scale(1.0098,1.0000)">T</text>
<text font-weight="bold" font-size="24.50" fill="#000" transform="translate(922.52,454.80) scale(0.9796,1.0000)">Superconducting</text>
<text font-weight="bold" font-size="24.50" fill="#000" transform="translate(986.06,483.40) scale(0.9916,1.0000)">state</text>
</svg>
</body></html>
